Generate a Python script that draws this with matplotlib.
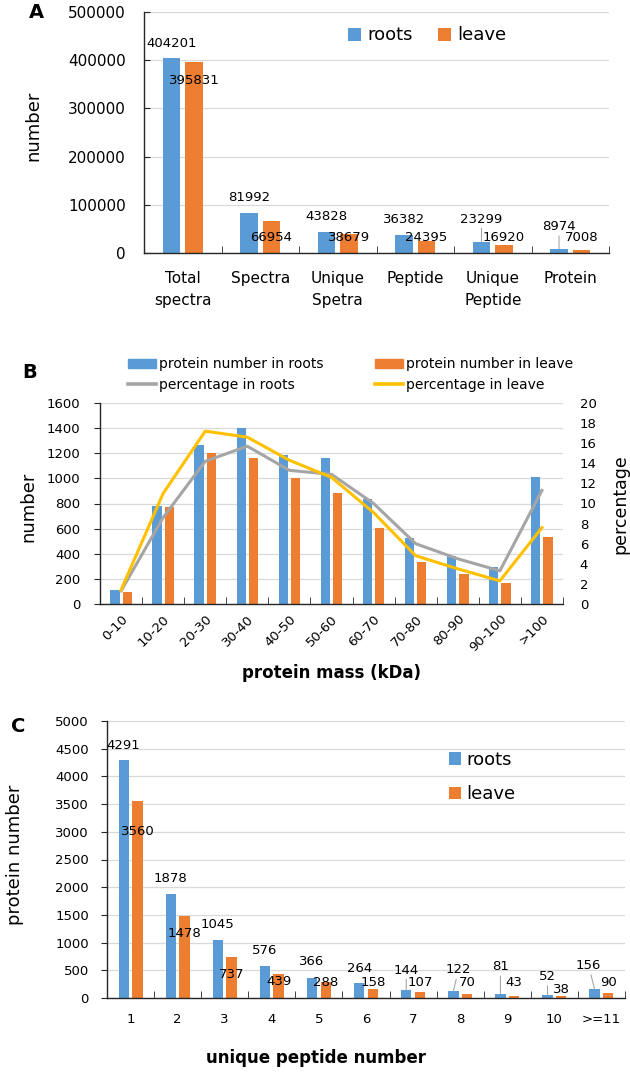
import numpy as np
import matplotlib
matplotlib.use('Agg')
import matplotlib.pyplot as plt
from matplotlib.lines import Line2D
from matplotlib.patches import Patch

# ── Data ───────────────────────────────────────────────────────────────────────
a_cats = ["Total\nspectra", "Spectra", "Unique\nSpetra", "Peptide", "Unique\nPeptide", "Protein"]
a_roots = [404201, 81992, 43828, 36382, 23299, 8974]
a_leave = [395831, 66954, 38679, 24395, 16920, 7008]

b_cats = ["0-10", "10-20", "20-30", "30-40", "40-50", "50-60", "60-70",
          "70-80", "80-90", "90-100", ">100"]
b_roots = [111, 783, 1268, 1398, 1189, 1162, 836, 525, 385, 292, 1008]
b_leave = [96, 770, 1205, 1160, 1003, 881, 602, 337, 239, 165, 536]
b_pct_roots = [1.3, 8.6, 14.2, 15.7, 13.3, 12.9, 10.0, 6.0, 4.5, 3.3, 11.3]
b_pct_leave = [1.4, 11.0, 17.2, 16.6, 14.3, 12.6, 9.1, 4.8, 3.5, 2.3, 7.6]

c_cats = ["1", "2", "3", "4", "5", "6", "7", "8", "9", "10", ">=11"]
c_roots = [4291, 1878, 1045, 576, 366, 264, 144, 122, 81, 52, 156]
c_leave = [3560, 1478, 737, 439, 288, 158, 107, 70, 43, 38, 90]

# ── Style ──────────────────────────────────────────────────────────────────────
BLUE, ORANGE = '#5B9BD5', '#ED7D31'
GRAY, YELLOW = '#A5A5A5', '#FFC000'
GRID = '#D9D9D9'
LEADER = '#A6A6A6'
W, OFF = 0.22, 0.145

# label offsets in points (manually moved labels, like in the source figure)
a_dy_roots = [10.8, 11.3, 11.2, 11.4, 16.3, 15.8]
a_dy_leave = [-13.0, -12.2, -2.2, 2.6, 5.0, 8.6]
a_leader = [4, 5]
c_dy_roots = [10.9, 11.2, 11.2, 11.0, 11.5, 10.9, 14.4, 15.3, 19.2, 13.4, 17.1]
c_dx_roots = [0, 0, 0, 0, 0, 0, 0, 3.6, 0, 0, -4.3]
c_dy_leave = [-22.3, -12.5, -12.7, -5.6, 0, 5.0, 7.1, 8.6, 9.7, 4.4, 7.8]
c_leader = [6, 7, 8, 9, 10]

fig = plt.figure(figsize=(6.3, 10.72), dpi=100)
PW, PH = 630, 1072


def box(l, t, r, b):
    return [l / PW, 1 - b / PH, (r - l) / PW, (b - t) / PH]


def fxy(x, y):
    return x / PW, 1 - y / PH


def style(ax, n, ydir='out', ypad=9, xpad=11, ytick=9.5, xtick=9.5):
    for s in ('top', 'right'):
        ax.spines[s].set_visible(False)
    for s in ('left', 'bottom'):
        ax.spines[s].set_color('#262626')
        ax.spines[s].set_linewidth(1.0)
    ax.grid(axis='y', color=GRID, lw=0.9)
    ax.set_axisbelow(True)
    ax.set_xlim(-0.5, n - 0.5)
    ax.set_xticks(np.arange(-0.5, n, 1), minor=True)
    ax.tick_params(axis='x', which='major', length=0, pad=xpad, labelsize=xtick)
    ax.tick_params(axis='x', which='minor', direction='in', length=5, color='#262626')
    ax.tick_params(axis='y', direction=ydir, length=4, pad=ypad, labelsize=ytick,
                   color='#262626')


def labels(ax, x, vals, dys, dxs=None, leader=(), fs=9.5):
    for i, v in enumerate(vals):
        dx = dxs[i] if dxs else 0
        kw = {}
        if i in leader:
            kw['arrowprops'] = dict(arrowstyle='-', color=LEADER, lw=0.8,
                                    shrinkA=0, shrinkB=0)
        ax.annotate(str(v), xy=(x[i], v), xytext=(dx, dys[i]),
                    textcoords='offset points', ha='center', va='center',
                    fontsize=fs, color='black', **kw)


# ── Panel A ────────────────────────────────────────────────────────────────────
axA = fig.add_axes(box(144, 12, 609, 253))
xa = np.arange(len(a_cats))
axA.bar(xa - OFF, a_roots, W, color=BLUE, label='roots')
axA.bar(xa + OFF, a_leave, W, color=ORANGE, label='leave')
style(axA, len(a_cats), ydir='in', ypad=13, xpad=13, ytick=11, xtick=11)
axA.set_ylim(0, 500000)
axA.set_yticks(np.arange(0, 500001, 100000))
axA.set_xticks(xa)
axA.set_xticklabels(a_cats, linespacing=1.6)
labels(axA, xa - OFF, a_roots, a_dy_roots, leader=a_leader)
labels(axA, xa + OFF, a_leave, a_dy_leave)
axA.legend(ncol=2, frameon=False, fontsize=13, handlelength=0.72, handleheight=0.72,
           handletextpad=0.35, columnspacing=1.4, borderpad=0, borderaxespad=0,
           loc='center left', bbox_to_anchor=fxy(348, 35.5),
           bbox_transform=fig.transFigure)

# ── Panel B ────────────────────────────────────────────────────────────────────
axB = fig.add_axes(box(100, 403, 563, 604))
xb = np.arange(len(b_cats))
axB.bar(xb - OFF, b_roots, W, color=BLUE)
axB.bar(xb + OFF, b_leave, W, color=ORANGE)
style(axB, len(b_cats), ypad=10, xpad=6)
axB.set_ylim(0, 1600)
axB.set_yticks(np.arange(0, 1601, 200))
axB.set_xticks(xb)
axB.set_xticklabels(b_cats, rotation=45, ha='right', rotation_mode='anchor')

axB2 = axB.twinx()
for s in ('top', 'right', 'left', 'bottom'):
    axB2.spines[s].set_visible(False)
axB2.plot(xb, b_pct_roots, color=GRAY, lw=2.2)
axB2.plot(xb, b_pct_leave, color=YELLOW, lw=2.2)
axB2.set_ylim(0, 20)
axB2.set_yticks(np.arange(0, 21, 2))
axB2.tick_params(axis='y', length=0, pad=12, labelsize=9.5)
axB2.set_xlim(-0.5, len(b_cats) - 0.5)

hb = [Patch(color=BLUE), Line2D([], [], color=GRAY, lw=2.6),
      Patch(color=ORANGE), Line2D([], [], color=YELLOW, lw=2.6)]
lb = ['protein number in roots', 'percentage in roots',
      'protein number in leave', 'percentage in leave']
fig.legend(hb, lb, ncol=2, frameon=False, fontsize=10, handlelength=2.0,
           handleheight=0.65, handletextpad=0.25, columnspacing=3.7,
           labelspacing=0.5, borderpad=0, borderaxespad=0,
           loc='center left', bbox_to_anchor=fxy(128, 374.75),
           bbox_transform=fig.transFigure)

# ── Panel C ────────────────────────────────────────────────────────────────────
axC = fig.add_axes(box(107, 721, 625, 998))
xc = np.arange(len(c_cats))
axC.bar(xc - OFF, c_roots, W, color=BLUE, label='roots')
axC.bar(xc + OFF, c_leave, W, color=ORANGE, label='leave')
style(axC, len(c_cats), ypad=9, xpad=11)
axC.set_ylim(0, 5000)
axC.set_yticks(np.arange(0, 5001, 500))
axC.set_xticks(xc)
axC.set_xticklabels(c_cats)
labels(axC, xc - OFF, c_roots, c_dy_roots, c_dx_roots, leader=c_leader)
labels(axC, xc + OFF, c_leave, c_dy_leave)
axC.legend(frameon=False, fontsize=13, handlelength=0.67, handleheight=0.67,
           handletextpad=0.3, labelspacing=0.9, borderpad=0, borderaxespad=0,
           loc='center left', bbox_to_anchor=fxy(449, 777),
           bbox_transform=fig.transFigure)

# ── Figure texts ───────────────────────────────────────────────────────────────
for s, (x, y) in zip('ABC', [(36, 12), (30, 372), (18, 726)]):
    fig.text(*fxy(x, y), s, fontsize=14, fontweight='bold', ha='center', va='center')
fig.text(*fxy(33, 126), 'number', fontsize=13, rotation=90, ha='center', va='center')
fig.text(*fxy(28, 507), 'number', fontsize=13, rotation=90, ha='center', va='center')
fig.text(*fxy(620, 504), 'percentage', fontsize=12.5, rotation=90, ha='center', va='center')
fig.text(*fxy(15, 855), 'protein number', fontsize=13, rotation=90, ha='center', va='center')
fig.text(*fxy(331.5, 673), 'protein mass (kDa)', fontsize=12, fontweight='bold',
         ha='center', va='center')
fig.text(*fxy(316, 1058), 'unique peptide number', fontsize=12, fontweight='bold',
         ha='center', va='center')

fig.savefig('out.png', dpi=100)
